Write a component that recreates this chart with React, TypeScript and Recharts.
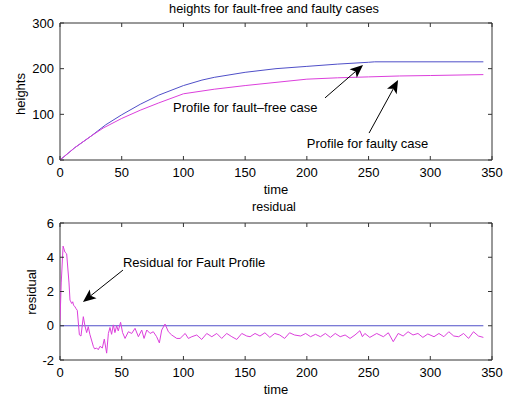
import React from 'react';
import { LineChart, Line, XAxis, YAxis, ReferenceArea, ReferenceLine, ReferenceDot } from 'recharts';

// ---- data: top chart (heights) ----
const faultFreeTime = [0, 12, 25, 37, 50, 65, 80, 100, 115, 125, 150, 175, 200, 225, 250, 255, 343];
const faultFreeHeight = [0, 27, 52, 77, 99, 122, 142, 163, 175, 181, 192, 200, 205, 210, 214, 215, 215];
const faultyTime = [0, 12, 25, 35, 50, 65, 80, 100, 125, 150, 175, 200, 225, 250, 275, 300, 343];
const faultyHeight = [0, 27, 52, 70, 91, 109, 125, 145, 155, 163, 170, 177, 180, 182, 184, 185, 187];

// ---- data: bottom chart (residual) ----
const residualTime = [
  0, 1, 2.5, 4, 5.4, 7.3, 8.1, 9.5, 10.3, 11, 12.2, 13, 14, 15.7, 17, 18.9, 20.2, 21.6, 22.9, 24.2,
  27, 28, 29.7, 31, 32.4, 34.3, 35.9, 37.8, 39.2, 40.5, 41.8, 43.2, 44.5, 45.9, 47.2, 49.1, 50.7,
  52.7, 55.4, 58.1, 60.8, 63.5, 66.2, 68.1, 70.3, 73, 75.6, 78.3, 80.5, 82.4, 85.1, 87.8, 90.5,
  94.6, 97.3, 101.4, 104, 106.8, 110.8, 114.8, 118.9, 123, 127, 131, 135.1, 139.2, 143.2, 147.3,
  151.3, 154, 158, 162, 166, 170, 174, 178, 182, 186, 190, 195, 199, 203, 207, 211, 215, 219, 223,
  227, 231, 235, 239, 243, 245, 247, 251, 256.6, 262, 266, 270, 274, 278, 282, 286, 290, 294, 298,
  303, 307, 311, 315, 319, 323, 327, 331, 335, 339, 343,
];
const residualValue = [
  0.3, 2.5, 4.65, 4.3, 4.2, 2.5, 1.5, 1.3, 1.4, 1.2, 1.1, 1.0, 0.9, -0.53, -0.6, 0.53, 0.0, -0.4, -0.05, -0.5,
  -1.2, -1.35, -1.3, -1.4, -1.2, -1.3, -0.78, -1.6, -0.45, -0.1, -0.5, 0.05, -0.4, 0.0, -0.3, 0.2, -0.4,
  -0.74, -0.35, -0.45, -0.15, -0.64, -0.25, -0.74, -0.25, -0.45, -0.35, -0.64, -1.0, -0.25, 0.1, -0.35, -0.54,
  -0.74, -0.74, -0.45, -0.74, -0.64, -0.54, -0.8, -0.45, -0.64, -0.45, -0.74, -0.45, -0.64, -0.8, -0.45,
  -0.6, -0.64, -0.45, -0.6, -0.41, -0.68, -0.45, -0.54, -0.74, -0.41, -0.54, -0.6, -0.45, -0.64, -0.5, -0.64, -0.45, -0.68, -0.45,
  -0.64, -0.54, -0.74, -0.54, -0.29, -0.64, -0.45, -0.68, -0.45, -0.64, -0.41, -0.93, -0.45, -0.6, -0.35, -0.54, -0.45, -0.68, -0.48,
  -0.64, -0.45, -0.64, -0.35, -0.6, -0.64, -0.45, -0.74, -0.35, -0.6, -0.68,
];
const zeroTime = [0, 343];
const zeroValue = [0, 0];

const xTicks = [0, 50, 100, 150, 200, 250, 300, 350];
const heightTicks = [0, 100, 200, 300];
const residualTicks = [-2, 0, 2, 4, 6];

const faultFreeData = faultFreeTime.map((t, i) => ({ t, v: faultFreeHeight[i] }));
const faultyData = faultyTime.map((t, i) => ({ t, v: faultyHeight[i] }));
const residualData = residualTime.map((t, i) => ({ t, v: residualValue[i] }));
const zeroData = zeroTime.map((t, i) => ({ t, v: zeroValue[i] }));

const FONT = '"Liberation Sans", Arial, sans-serif';
const BLUE = '#4f4fc8';
const MAGENTA = '#dc3fdc';
const FRAME = '#333';

const PLOT_LEFT = 60;
const PLOT_RIGHT = 492;
const TICK = 4;

function makeXTick(top: number, bottom: number) {
  return (props: any) => {
    const { x, payload } = props;
    return (
      <g>
        <line x1={x} y1={bottom} x2={x} y2={bottom - TICK} stroke={FRAME} />
        <line x1={x} y1={top} x2={x} y2={top + TICK} stroke={FRAME} />
        <text x={x} y={bottom + 12} textAnchor="middle" dominantBaseline="central" fontSize={13} fontFamily={FONT} fill="#000">
          {payload.value}
        </text>
      </g>
    );
  };
}

function makeYTick() {
  return (props: any) => {
    const { y, payload } = props;
    return (
      <g>
        <line x1={PLOT_LEFT} y1={y} x2={PLOT_LEFT + TICK} y2={y} stroke={FRAME} />
        <line x1={PLOT_RIGHT} y1={y} x2={PLOT_RIGHT - TICK} y2={y} stroke={FRAME} />
        <text x={PLOT_LEFT - 6} y={y} textAnchor="end" dominantBaseline="central" fontSize={13} fontFamily={FONT} fill="#000">
          {payload.value}
        </text>
      </g>
    );
  };
}

function arrowShape(props: any) {
  const { x1, y1, x2, y2 } = props;
  const dx = x2 - x1;
  const dy = y2 - y1;
  const len = Math.sqrt(dx * dx + dy * dy) || 1;
  const ux = dx / len;
  const uy = dy / len;
  const headLen = 13;
  const headW = 5.5;
  const bx = x2 - ux * headLen;
  const by = y2 - uy * headLen;
  const nx = bx + ux * 3;
  const ny = by + uy * 3;
  const pts = [
    `${x2},${y2}`,
    `${bx - uy * headW},${by + ux * headW}`,
    `${nx},${ny}`,
    `${bx + uy * headW},${by - ux * headW}`,
  ].join(' ');
  return (
    <g>
      <line x1={x1} y1={y1} x2={nx} y2={ny} stroke="#000" strokeWidth={1} />
      <polygon points={pts} fill="#000" />
    </g>
  );
}

function textShape(label: string) {
  return (props: any) => (
    <text x={props.cx} y={props.cy} dominantBaseline="central" fontSize={13} fontFamily={FONT} fill="#000">
      {label}
    </text>
  );
}

export default function App() {
  return (
    <div style={{ position: 'absolute', left: 0, top: 0, width: 526, height: 401, background: '#fff' }}>
      <div style={{ position: 'absolute', left: 0, top: 0 }}>
        <LineChart width={526} height={200} margin={{ top: 23, right: 34, bottom: 0, left: 0 }}>
          <XAxis dataKey="t" type="number" domain={[0, 350]} ticks={xTicks} allowDataOverflow height={40}
            axisLine={false} tickLine={false} tick={makeXTick(23, 160)} interval={0} />
          <YAxis type="number" domain={[0, 300]} ticks={heightTicks} width={60}
            axisLine={false} tickLine={false} tick={makeYTick()} interval={0} />
          <ReferenceArea x1={0} x2={350} y1={0} y2={300} fill="none" stroke={FRAME} strokeWidth={1} fillOpacity={0} />
          <Line data={faultFreeData} dataKey="v" stroke={BLUE} strokeWidth={1} dot={false} isAnimationActive={false} type="linear" />
          <Line data={faultyData} dataKey="v" stroke={MAGENTA} strokeWidth={1} dot={false} isAnimationActive={false} type="linear" />
          <ReferenceLine segment={[{ x: 214.7, y: 136 }, { x: 245.5, y: 208 }]} shape={arrowShape} ifOverflow="visible" />
          <ReferenceLine segment={[{ x: 250.4, y: 59 }, { x: 273.9, y: 175 }]} shape={arrowShape} ifOverflow="visible" />
          <ReferenceDot x={91.6} y={116} r={0} shape={textShape('Profile for fault\u2013free case')} ifOverflow="visible" />
          <ReferenceDot x={200} y={37} r={0} shape={textShape('Profile for faulty case')} ifOverflow="visible" />
        </LineChart>
      </div>
      <div style={{ position: 'absolute', left: 0, top: 200 }}>
        <LineChart width={526} height={201} margin={{ top: 23, right: 34, bottom: 0, left: 0 }}>
          <XAxis dataKey="t" type="number" domain={[0, 350]} ticks={xTicks} allowDataOverflow height={41}
            axisLine={false} tickLine={false} tick={makeXTick(23, 160)} interval={0} />
          <YAxis type="number" domain={[-2, 6]} ticks={residualTicks} width={60}
            axisLine={false} tickLine={false} tick={makeYTick()} interval={0} />
          <ReferenceArea x1={0} x2={350} y1={-2} y2={6} fill="none" stroke={FRAME} strokeWidth={1} fillOpacity={0} />
          <Line data={zeroData} dataKey="v" stroke={BLUE} strokeWidth={1} dot={false} isAnimationActive={false} type="linear" />
          <Line data={residualData} dataKey="v" stroke={MAGENTA} strokeWidth={1} dot={false} isAnimationActive={false} type="linear" />
          <ReferenceLine segment={[{ x: 51, y: 3.25 }, { x: 18.6, y: 1.39 }]} shape={arrowShape} ifOverflow="visible" />
          <ReferenceDot x={51} y={3.7} r={0} shape={textShape('Residual for Fault Profile')} ifOverflow="visible" />
        </LineChart>
      </div>
      <svg width={526} height={401} style={{ position: 'absolute', left: 0, top: 0, pointerEvents: 'none' }}>
        <g fontFamily={FONT} fill="#000">
          <text x={274} y={8} textAnchor="middle" dominantBaseline="central" fontSize={12.8}>heights for fault-free and faulty cases</text>
          <text x={276} y={189} textAnchor="middle" dominantBaseline="central" fontSize={13}>time</text>
          <text x={20} y={94} textAnchor="middle" dominantBaseline="central" fontSize={13} transform="rotate(-90 20 94)">heights</text>
          <text x={274} y={207} textAnchor="middle" dominantBaseline="central" fontSize={12.5}>residual</text>
          <text x={276} y={389} textAnchor="middle" dominantBaseline="central" fontSize={13}>time</text>
          <text x={31} y={292} textAnchor="middle" dominantBaseline="central" fontSize={13} transform="rotate(-90 31 292)">residual</text>
        </g>
      </svg>
    </div>
  );
}
